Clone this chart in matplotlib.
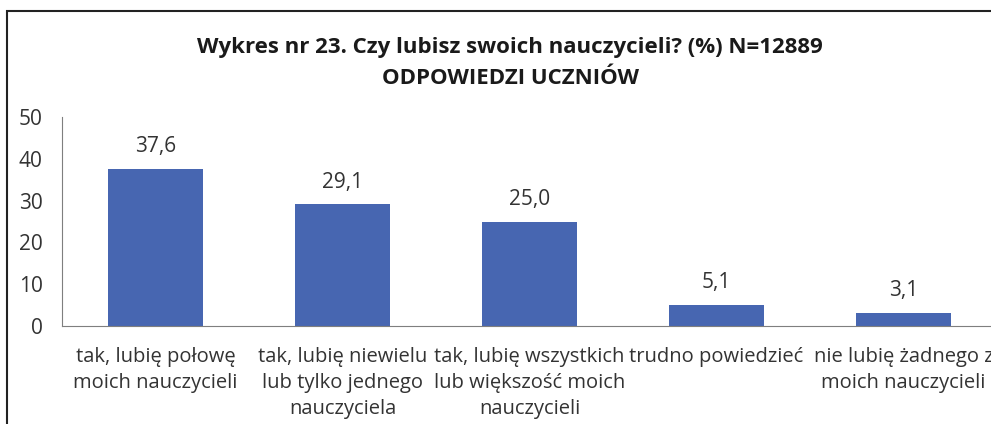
import matplotlib.pyplot as plt
from matplotlib.patches import Rectangle

# chart data
categories = [
    'tak, lubię połowę\nmoich nauczycieli',
    'tak, lubię niewielu\nlub tylko jednego\nnauczyciela',
    'tak, lubię wszystkich\nlub większość moich\nnauczycieli',
    'trudno powiedzieć',
    'nie lubię żadnego z\nmoich nauczycieli',
]
values = [37.6, 29.1, 25.0, 5.1, 3.1]
y_ticks = [0, 10, 20, 30, 40, 50]

plt.rcParams['font.family'] = ['Open Sans', 'DejaVu Sans']

W, H = 991, 424
fig = plt.figure(figsize=(W / 100, H / 100), dpi=100)

# axes placed in pixel terms, right side runs past the figure edge
left, right, bottom, top = 62, 997, 326, 117
ax = fig.add_axes([left / W, (H - bottom) / H, (right - left) / W, (bottom - top) / H])

x = list(range(len(values)))
bars = ax.bar(x, values, width=0.51, color='#4766B1')
for xi, v in zip(x, values):
    ax.text(xi, v + 2.8, f'{v:.1f}'.replace('.', ','), ha='center', va='bottom',
            fontsize=15, color='#333333')

ax.set_xlim(-0.5, len(values) - 0.5)
ax.set_ylim(0, 50)
ax.set_yticks(y_ticks)
ax.set_yticklabels([str(t) for t in y_ticks], fontsize=15, color='#333333')
ax.set_xticks(x)
ax.set_xticklabels(categories, fontsize=14.5, color='#333333', linespacing=1.4, va='top')
ax.tick_params(axis='both', length=0)
ax.tick_params(axis='x', pad=15)
ax.tick_params(axis='y', pad=14)

for s in ['top', 'right']:
    ax.spines[s].set_visible(False)
ax.spines['left'].set_color('#7f7f7f')
ax.spines['bottom'].set_color('#7f7f7f')

fig.text(510 / W, 1 - 47 / H, 'Wykres nr 23. Czy lubisz swoich nauczycieli? (%) N=12889',
         ha='center', va='center', fontsize=16, fontweight='bold', color='#1a1a1a')
fig.text(510 / W, 1 - 78 / H, 'ODPOWIEDZI UCZNIÓW',
         ha='center', va='center', fontsize=16, fontweight='bold', color='#1a1a1a')

# outer frame of the original chart
fig.patches.append(Rectangle((7 / W, -0.1), 1.1, 1 - 11 / H + 0.1, transform=fig.transFigure,
                             fill=False, edgecolor='#222222', linewidth=1.5))

fig.savefig('out.png', dpi=100)
